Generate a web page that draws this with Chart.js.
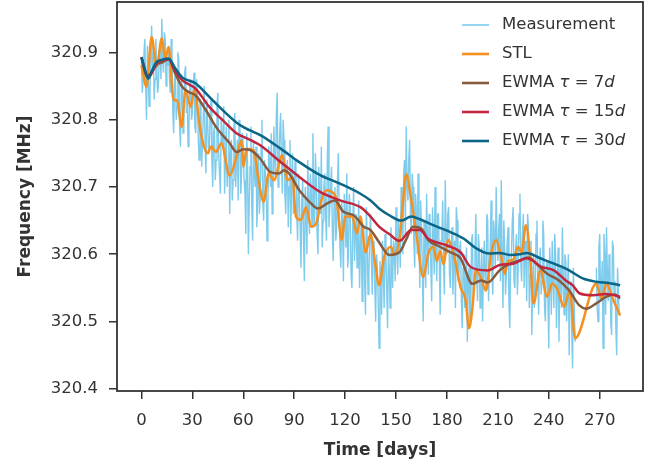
<!DOCTYPE html>
<html>
<head>
<meta charset="utf-8">
<script src="https://cdn.jsdelivr.net/npm/chart.js@4.4.1/dist/chart.umd.min.js"></script>
<style>
  html, body { margin: 0; padding: 0; background: #fff; }
</style>
</head>
<body>
<canvas id="grafico_freq" width="655" height="466"></canvas>
<script>
let ctx = document.getElementById('grafico_freq')

// eixos
const xTicks = [0, 30, 60, 90, 120, 150, 180, 210, 240, 270]
const yTicks = [320.4, 320.5, 320.6, 320.7, 320.8, 320.9]

const seriesLabels = ['Measurement', 'STL', 'EWMA τ = 7d', 'EWMA τ = 15d', 'EWMA τ = 30d']
const seriesColors = ['#7ecbec', '#f5901f', '#875b3e', '#c2263f', '#0a6586']

// medição: uma leitura no início de cada dia, dias 0-255
const measPart1 = [
  320.89, 320.86, 320.92, 320.80, 320.87, 320.84, 320.94, 320.90, 320.86, 320.88,
  320.85, 320.91, 320.95, 320.87, 320.92, 320.89, 320.91, 320.84, 320.90, 320.78,
  320.87, 320.82, 320.89, 320.76, 320.85, 320.80, 320.88, 320.83, 320.79, 320.86,
  320.81, 320.87, 320.78, 320.84, 320.74, 320.82, 320.77, 320.85, 320.72, 320.80,
  320.76, 320.83, 320.70, 320.79, 320.74, 320.84, 320.72, 320.80, 320.76, 320.69,
  320.79, 320.73, 320.66, 320.77, 320.71, 320.81, 320.74, 320.68, 320.79, 320.72,
  320.76, 320.69, 320.78, 320.60, 320.73, 320.67, 320.77, 320.70, 320.64, 320.75,
  320.69, 320.80, 320.65, 320.72, 320.62, 320.76, 320.70, 320.66, 320.79, 320.71,
  320.84, 320.73, 320.81, 320.69, 320.77, 320.66, 320.74, 320.70, 320.63, 320.75,
  320.68, 320.73, 320.62, 320.69, 320.58, 320.71, 320.56, 320.66, 320.74, 320.63,
  320.70, 320.78, 320.64, 320.71, 320.60, 320.68, 320.76, 320.65, 320.72, 320.62,
  320.79, 320.67, 320.73, 320.59, 320.70, 320.64, 320.75, 320.61, 320.68, 320.56,
  320.66, 320.72, 320.60, 320.67, 320.55, 320.70, 320.63, 320.58, 320.68, 320.61,
  320.53, 320.64, 320.51, 320.62, 320.57, 320.66, 320.54, 320.61, 320.50, 320.58,
  320.46, 320.56, 320.62, 320.52, 320.60, 320.49, 320.58, 320.64, 320.55, 320.61,
  320.67, 320.57, 320.63, 320.70, 320.60, 320.74, 320.79, 320.68, 320.77, 320.63,
  320.70, 320.58, 320.66, 320.72, 320.55, 320.64, 320.50, 320.61, 320.69, 320.57,
  320.65, 320.53, 320.62, 320.70, 320.56, 320.66, 320.51, 320.63, 320.58, 320.71,
  320.60, 320.67, 320.55, 320.64, 320.59, 320.52, 320.65, 320.57, 320.62, 320.49,
  320.60, 320.55, 320.47, 320.58, 320.51, 320.63, 320.56, 320.66, 320.53, 320.61,
  320.57, 320.50, 320.62, 320.55, 320.65, 320.58, 320.68, 320.54, 320.63, 320.70,
  320.59, 320.66, 320.71, 320.52, 320.61, 320.57, 320.64, 320.49, 320.60, 320.67,
  320.55, 320.63, 320.58, 320.69, 320.56, 320.66, 320.62, 320.53, 320.64, 320.57,
  320.48, 320.60, 320.54, 320.65, 320.51, 320.61, 320.56, 320.63, 320.50, 320.59,
  320.46, 320.57, 320.62, 320.52, 320.60, 320.55, 320.47, 320.58, 320.64, 320.51,
  320.59, 320.54, 320.45, 320.56, 320.43, 320.52
]
// leitura do meio-dia, dias 0.5-255.5
const measHalf1 = [
  320.84, 320.90, 320.85, 320.91, 320.82, 320.89, 320.87, 320.83, 320.92, 320.84,
  320.90, 320.86, 320.89, 320.93, 320.85, 320.88, 320.86, 320.92, 320.81, 320.86,
  320.80, 320.90, 320.79, 320.86, 320.78, 320.87, 320.81, 320.76, 320.85, 320.80,
  320.85, 320.79, 320.86, 320.77, 320.83, 320.73, 320.81, 320.76, 320.83, 320.75,
  320.81, 320.74, 320.78, 320.71, 320.82, 320.75, 320.69, 320.77, 320.82, 320.74,
  320.70, 320.80, 320.75, 320.68, 320.79, 320.70, 320.77, 320.80, 320.69, 320.78,
  320.71, 320.63, 320.74, 320.68, 320.79, 320.62, 320.72, 320.76, 320.69, 320.66,
  320.76, 320.68, 320.74, 320.70, 320.67, 320.73, 320.78, 320.69, 320.74, 320.81,
  320.70, 320.78, 320.74, 320.80, 320.69, 320.72, 320.64, 320.77, 320.71, 320.66,
  320.74, 320.66, 320.72, 320.64, 320.68, 320.62, 320.70, 320.60, 320.67, 320.72,
  320.64, 320.69, 320.75, 320.63, 320.73, 320.66, 320.61, 320.70, 320.66, 320.74,
  320.64, 320.70, 320.63, 320.68, 320.62, 320.71, 320.66, 320.58, 320.64, 320.69,
  320.61, 320.58, 320.69, 320.57, 320.64, 320.59, 320.66, 320.62, 320.55, 320.65,
  320.60, 320.56, 320.67, 320.54, 320.63, 320.59, 320.62, 320.55, 320.60, 320.53,
  320.59, 320.51, 320.57, 320.63, 320.55, 320.61, 320.52, 320.59, 320.62, 320.56,
  320.61, 320.65, 320.58, 320.66, 320.72, 320.63, 320.70, 320.74, 320.66, 320.72,
  320.62, 320.69, 320.60, 320.63, 320.68, 320.58, 320.65, 320.55, 320.62, 320.66,
  320.58, 320.67, 320.57, 320.61, 320.66, 320.59, 320.62, 320.68, 320.54, 320.63,
  320.66, 320.57, 320.61, 320.54, 320.62, 320.67, 320.56, 320.61, 320.53, 320.58,
  320.52, 320.61, 320.56, 320.50, 320.62, 320.54, 320.60, 320.57, 320.63, 320.52,
  320.61, 320.58, 320.56, 320.66, 320.53, 320.61, 320.57, 320.65, 320.58, 320.62,
  320.64, 320.56, 320.60, 320.65, 320.54, 320.62, 320.53, 320.58, 320.65, 320.56,
  320.61, 320.54, 320.66, 320.59, 320.63, 320.55, 320.60, 320.66, 320.52, 320.62,
  320.56, 320.52, 320.63, 320.57, 320.59, 320.54, 320.65, 320.52, 320.58, 320.53,
  320.61, 320.51, 320.56, 320.63, 320.49, 320.61, 320.56, 320.52, 320.57, 320.60,
  320.50, 320.60, 320.55, 320.49, 320.58, 320.47
]
// depois do buraco: dias 268-281 (início e meio-dia)
const measPart2Start = 268
const measPart2 = [
  320.58, 320.50, 320.63, 320.55, 320.46, 320.60, 320.64, 320.53, 320.58, 320.48,
  320.61, 320.56, 320.45, 320.54
]
const measHalf2 = [
  320.52, 320.61, 320.53, 320.59, 320.63, 320.51, 320.57, 320.60, 320.50, 320.62,
  320.54, 320.49, 320.58, 320.51
]

// STL
const stlDays = [0, 3, 6, 9, 12, 14, 16, 19, 21, 23.6, 26, 29, 31, 35, 39, 41, 44, 47, 52, 56,
  59, 60, 62, 66, 69, 72, 75, 78, 83, 86, 89, 91, 94, 97, 100, 103, 106, 109, 112, 115,
  118, 120, 124, 127, 129, 132, 135, 137.5, 140, 143, 147, 149, 152, 154, 156, 159, 162, 166, 169, 172,
  174, 176, 178, 180.5, 184, 188, 191, 193, 195, 197, 200, 203, 206, 209, 212, 214, 216, 219, 222, 224,
  226.5, 229, 231, 235, 239, 242, 245, 249, 252.4, 255.5, 268, 271, 274, 278, 282]
const stlVals = [320.881, 320.849, 320.923, 320.879, 320.921, 320.890, 320.908, 320.829, 320.829, 320.789,
  320.844, 320.819, 320.844, 320.780, 320.750, 320.760, 320.752, 320.765, 320.717, 320.745,
  320.770, 320.730, 320.757, 320.755, 320.710, 320.678, 320.720, 320.710, 320.747, 320.710,
  320.715, 320.656, 320.651, 320.670, 320.641, 320.646, 320.680, 320.695, 320.693, 320.680,
  320.621, 320.656, 320.656, 320.631, 320.656, 320.603, 320.630, 320.591, 320.554, 320.596,
  320.611, 320.600, 320.621, 320.675, 320.719, 320.680, 320.631, 320.566, 320.601, 320.611,
  320.590, 320.605, 320.585, 320.621, 320.600, 320.551, 320.532, 320.490, 320.520, 320.576,
  320.565, 320.546, 320.601, 320.621, 320.595, 320.571, 320.590, 320.592, 320.611, 320.602,
  320.643, 320.596, 320.527, 320.576, 320.537, 320.556, 320.548, 320.522, 320.546, 320.475,
  320.556, 320.535, 320.556, 320.532, 320.509]

// EWMA 7 dias
const ewma7Days = [0, 3, 6, 9, 12, 16, 20, 24, 28, 32, 38, 44, 52, 56, 60, 64, 70, 76, 81, 84,
  87, 93, 99, 104, 109, 114, 119, 125, 131, 135, 140, 146, 152, 156, 160, 165, 169, 176, 182, 188,
  195, 200, 204, 211, 217, 222, 228, 233, 239, 246, 252, 258, 262, 268, 274, 279, 282]
const ewma7Vals = [320.893, 320.865, 320.870, 320.882, 320.885, 320.890, 320.868, 320.849, 320.841, 320.836,
  320.814, 320.789, 320.765, 320.752, 320.756, 320.755, 320.742, 320.722, 320.720, 320.725,
  320.720, 320.695, 320.678, 320.668, 320.675, 320.680, 320.663, 320.658, 320.641, 320.636,
  320.618, 320.599, 320.603, 320.622, 320.641, 320.638, 320.621, 320.611, 320.603, 320.594,
  320.556, 320.561, 320.558, 320.576, 320.586, 320.590, 320.595, 320.585, 320.571, 320.561,
  320.546, 320.524, 320.519, 320.527, 320.537, 320.540, 320.534]

// EWMA 15 dias
const ewma15Days = [0, 4, 9, 16, 20, 24, 32, 40, 48, 56, 64, 70, 82, 93, 105, 117, 129, 135, 140, 146,
  152, 159, 164, 169, 180, 188, 194, 204, 211, 219, 227, 231, 235, 243, 250, 254, 258, 266, 274, 282]
const ewma15Vals = [320.893, 320.862, 320.884, 320.890, 320.872, 320.859, 320.846, 320.819, 320.799, 320.780,
  320.770, 320.762, 320.737, 320.715, 320.693, 320.680, 320.670, 320.656, 320.641, 320.630,
  320.620, 320.636, 320.636, 320.623, 320.613, 320.603, 320.581, 320.576, 320.584, 320.586,
  320.594, 320.590, 320.582, 320.576, 320.561, 320.554, 320.542, 320.539, 320.541, 320.537]

// EWMA 30 dias
const ewma30Days = [0, 2, 4, 6, 9, 12, 16, 20, 24, 32, 40, 48, 58, 64, 70, 82, 93, 105, 117, 129,
  135, 140, 146, 153, 159, 164, 174, 182, 190, 197, 205, 211, 217, 223, 227, 235, 243, 252, 260, 268,
  276, 282]
const ewma30Vals = [320.893, 320.875, 320.861, 320.872, 320.886, 320.889, 320.891, 320.876, 320.863, 320.854,
  320.834, 320.814, 320.792, 320.784, 320.777, 320.757, 320.737, 320.718, 320.705, 320.690,
  320.680, 320.668, 320.658, 320.650, 320.656, 320.652, 320.641, 320.633, 320.623, 320.609,
  320.601, 320.602, 320.599, 320.600, 320.602, 320.594, 320.586, 320.576, 320.564, 320.559,
  320.557, 320.554]

const pares = (xs, ys) => xs.map((x, i) => ({ x, y: ys[i] }))

// intercala leitura do dia e do meio-dia
const intercala = (inicio, dia, meio) => {
  const pts = []
  dia.forEach((v, i) => {
    pts.push({ x: inicio + i, y: v })
    pts.push({ x: inicio + i + 0.5, y: meio[i] })
  })
  return pts
}
// ponto nulo no meio do buraco para não ligar as duas partes
const measPoints = intercala(0, measPart1, measHalf1)
  .concat([{ x: measPart2Start - 6, y: null }])
  .concat(intercala(measPart2Start, measPart2, measHalf2))

const fonte = '"DejaVu Sans", sans-serif'
const corTexto = '#333333'

// moldura em volta da área do gráfico
const moldura = {
  id: 'moldura',
  afterDatasetsDraw(chart) {
    const { ctx, chartArea: a } = chart
    ctx.save()
    ctx.strokeStyle = '#333333'
    ctx.lineWidth = 1.8
    ctx.strokeRect(a.left, a.top, a.right - a.left, a.bottom - a.top)
    ctx.restore()
  }
}

// legenda desenhada à mão (τ e d em itálico)
const legenda = {
  id: 'legenda',
  afterDraw(chart) {
    const { ctx } = chart
    const x0 = 462, x1 = 489, xt = 502, y0 = 25, dy = 29
    ctx.save()
    ctx.textBaseline = 'middle'
    chart.data.datasets.forEach((ds, i) => {
      const y = y0 + i * dy
      ctx.strokeStyle = ds.borderColor
      ctx.lineWidth = i === 0 ? 1.6 : 2.6
      ctx.beginPath()
      ctx.moveTo(x0, y)
      ctx.lineTo(x1, y)
      ctx.stroke()
      let x = xt
      const partes = ds.label.split(/(τ|(?<=\d)d)/).filter(p => p !== '')
      partes.forEach(p => {
        const italico = p === 'τ' || p === 'd'
        ctx.font = (italico ? 'italic ' : '') + '16.5px ' + fonte
        ctx.fillStyle = corTexto
        ctx.fillText(p, x, y)
        x += ctx.measureText(p).width
      })
    })
    ctx.restore()
  }
}

const data = {
  datasets: [
    { label: seriesLabels[0], data: measPoints, borderColor: seriesColors[0], borderWidth: 1.4, order: 5, spanGaps: false },
    { label: seriesLabels[1], data: pares(stlDays, stlVals), borderColor: seriesColors[1], borderWidth: 2.5, order: 4, cubicInterpolationMode: 'monotone' },
    { label: seriesLabels[2], data: pares(ewma7Days, ewma7Vals), borderColor: seriesColors[2], borderWidth: 2.5, order: 3, cubicInterpolationMode: 'monotone' },
    { label: seriesLabels[3], data: pares(ewma15Days, ewma15Vals), borderColor: seriesColors[3], borderWidth: 2.5, order: 2, cubicInterpolationMode: 'monotone' },
    { label: seriesLabels[4], data: pares(ewma30Days, ewma30Vals), borderColor: seriesColors[4], borderWidth: 2.5, order: 1, cubicInterpolationMode: 'monotone' }
  ]
}

const config = {
  type: 'line',
  data,
  options: {
    responsive: false,
    animation: false,
    devicePixelRatio: 1,
    layout: { padding: { top: 2, right: 12, left: 0, bottom: 0 } },
    elements: { point: { radius: 0 } },
    plugins: { legend: { display: false }, tooltip: { enabled: false } },
    scales: {
      x: {
        type: 'linear',
        min: -14.4,
        max: 295.5,
        afterBuildTicks: s => { s.ticks = xTicks.map(v => ({ value: v })) },
        afterFit: s => { s.height = 75; s.paddingLeft = 0; s.paddingRight = 0 },
        grid: { drawOnChartArea: false, drawTicks: true, tickLength: 8, color: '#333333', lineWidth: 1.5 },
        border: { display: false },
        ticks: { color: corTexto, font: { family: fonte, size: 16.5 }, padding: 12, maxRotation: 0,
          callback: v => String(v) },
        title: { display: true, text: 'Time [days]', color: corTexto,
          font: { family: fonte, size: 17, weight: '600' }, padding: { top: 0, bottom: 5 } }
      },
      y: {
        type: 'linear',
        min: 320.3967,
        max: 320.975,
        afterBuildTicks: s => { s.ticks = yTicks.map(v => ({ value: v })) },
        afterFit: s => { s.width = 117; s.paddingTop = 0; s.paddingBottom = 0 },
        grid: { drawOnChartArea: false, drawTicks: true, tickLength: 8, color: '#333333', lineWidth: 1.5 },
        border: { display: false },
        ticks: { color: corTexto, font: { family: fonte, size: 16.5 }, padding: 11,
          callback: v => v.toFixed(1) },
        title: { display: true, text: 'Frequency [MHz]', color: corTexto,
          font: { family: fonte, size: 17, weight: '600' }, padding: { top: 15, bottom: 0 } }
      }
    }
  },
  plugins: [moldura, legenda]
}

const graph = new Chart(ctx, config)
</script>
</body>
</html>
